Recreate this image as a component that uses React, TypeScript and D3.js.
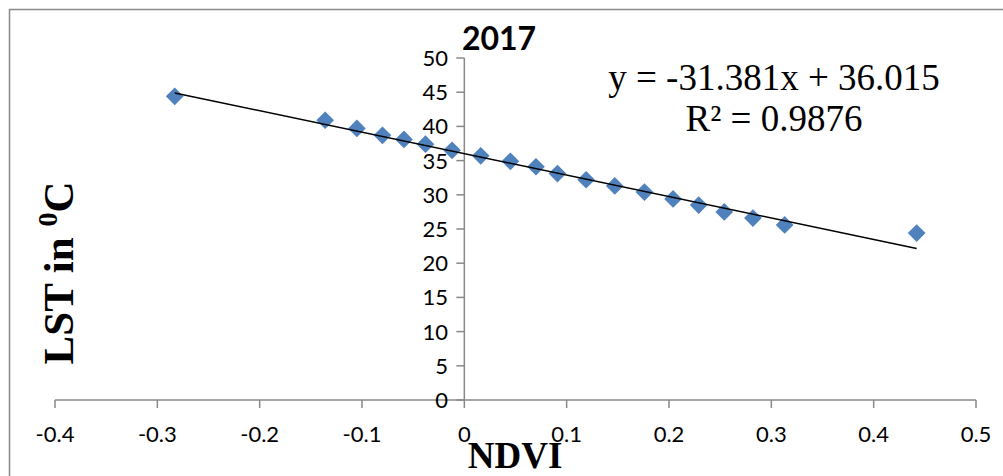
import React from "react";
import * as d3 from "d3";

const ndvi = [-0.283, -0.136, -0.105, -0.080, -0.059, -0.038, -0.012, 0.016, 0.045, 0.070, 0.091, 0.119, 0.147, 0.176, 0.204, 0.229, 0.254, 0.282, 0.313, 0.442];
const lst = [44.4, 40.9, 39.7, 38.7, 38.1, 37.4, 36.5, 35.7, 34.9, 34.1, 33.1, 32.2, 31.3, 30.4, 29.4, 28.5, 27.5, 26.6, 25.6, 24.4];
const xTicks = [-0.4, -0.3, -0.2, -0.1, 0, 0.1, 0.2, 0.3, 0.4, 0.5];
const yTicks = [0, 5, 10, 15, 20, 25, 30, 35, 40, 45, 50];
const slope = -31.381;
const intercept = 36.015;
const title = "2017";
const eqText = "y = -31.381x + 36.015";
const r2Text = "R² = 0.9876";

export default function App() {
  const W = 1003, H = 476;
  const x = d3.scaleLinear().domain([-0.4, 0.5]).range([55, 976]);
  const y = d3.scaleLinear().domain([0, 50]).range([400, 58]);
  const axisColor = "#898989";
  const tickFont = "Lato, 'Open Sans', sans-serif";
  const x0 = x(0);
  const y0 = y(0);
  const xmin = d3.min(ndvi)!;
  const xmax = d3.max(ndvi)!;
  const trend = d3.line<number>().x((d) => x(d)).y((d) => y(slope * d + intercept));
  const diamond = d3.symbol().type(d3.symbolDiamond2).size(200)();
  return (
    <svg width={W} height={H} style={{ position: "absolute", left: 0, top: 0, background: "#fff" }}>
      <rect x={9.5} y={9.5} width={1000} height={480} fill="#fff" stroke={axisColor} strokeWidth={1.5} />
      {/* x axis */}
      <line x1={x(-0.4)} x2={x(0.5)} y1={y0} y2={y0} stroke={axisColor} strokeWidth={1.5} />
      {xTicks.map((t) => (
        <g key={"xt" + t}>
          <line x1={x(t)} x2={x(t)} y1={y0} y2={y0 + 8} stroke={axisColor} strokeWidth={1.5} />
          <text x={x(t)} y={442} textAnchor="middle" fontFamily={tickFont} fontSize={22} fill="#000">
            {String(t)}
          </text>
        </g>
      ))}
      {/* y axis */}
      <line x1={x0} x2={x0} y1={y(0)} y2={y(50)} stroke={axisColor} strokeWidth={1.5} />
      {yTicks.map((t) => (
        <g key={"yt" + t}>
          <line x1={x0 - 8} x2={x0} y1={y(t)} y2={y(t)} stroke={axisColor} strokeWidth={1.5} />
          <text x={448} y={y(t)} dy="0.36em" textAnchor="end" fontFamily={tickFont} fontSize={22} fill="#000">
            {String(t)}
          </text>
        </g>
      ))}
      {/* points */}
      {ndvi.map((v, i) => (
        <path key={"p" + i} d={diamond!} transform={`translate(${x(v)},${y(lst[i])})`} fill="#4F81BD" />
      ))}
      {/* trendline */}
      <path d={trend([xmin, xmax])!} stroke="#000" strokeWidth={1.5} fill="none" />
      {/* title */}
      <text x={499} y={50} textAnchor="middle" fontFamily={tickFont} fontWeight="bold" fontSize={32} fill="#000">
        {title}
      </text>
      {/* equation */}
      <text x={774} y={90} textAnchor="middle" fontFamily="'Liberation Serif', 'Times New Roman', serif" fontSize={37} fill="#000">
        {eqText}
      </text>
      <text x={774} y={131} textAnchor="middle" fontFamily="'Liberation Serif', 'Times New Roman', serif" fontSize={37} fill="#000">
        {r2Text}
      </text>
      {/* axis titles */}
      <text x={515} y={468} textAnchor="middle" fontFamily="'Liberation Serif', 'Times New Roman', serif" fontWeight="bold" fontSize={37} fill="#000">
        NDVI
      </text>
      <text transform={`translate(73,273) rotate(-90)`} textAnchor="middle" fontFamily="'Liberation Serif', 'Times New Roman', serif" fontWeight="bold" fontSize={43} fill="#000">
        LST in <tspan fontSize={28} dy={-16}>0</tspan><tspan dy={16}>C</tspan>
      </text>
    </svg>
  );
}
